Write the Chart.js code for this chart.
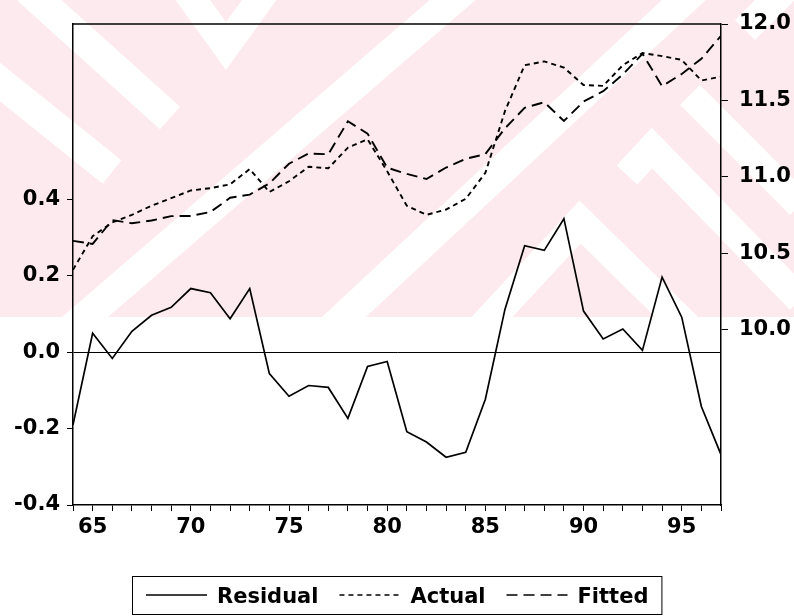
<!DOCTYPE html>
<html>
<head>
<meta charset="utf-8">
<title>Residual, Actual and Fitted</title>
<script src="https://cdn.jsdelivr.net/npm/chart.js@4.4.0/dist/chart.umd.min.js"></script>
<style>
  html, body { margin: 0; padding: 0; background: #fff; }
</style>
</head>
<body>
<canvas id="chart" width="794" height="616"></canvas>
<script>
// years 1964-1997, two-digit labels
const years = [64, 65, 66, 67, 68, 69, 70, 71, 72, 73, 74, 75, 76, 77, 78, 79, 80,
               81, 82, 83, 84, 85, 86, 87, 88, 89, 90, 91, 92, 93, 94, 95, 96, 97];

// left axis
const residual = [-0.190, 0.050, -0.016, 0.055, 0.097, 0.118, 0.167, 0.156, 0.088, 0.167,
                  -0.056, -0.115, -0.087, -0.092, -0.173, -0.037, -0.024, -0.208, -0.235, -0.275,
                  -0.262, -0.123, 0.113, 0.279, 0.267, 0.350, 0.108, 0.035, 0.061, 0.005,
                  0.197, 0.092, -0.142, -0.268];

// right axis
const actual = [10.39, 10.61, 10.70, 10.75, 10.81, 10.86, 10.91, 10.925, 10.95, 11.05,
                10.90, 10.97, 11.065, 11.055, 11.19, 11.245, 11.035, 10.81, 10.75, 10.785,
                10.855, 11.025, 11.43, 11.73, 11.755, 11.715, 11.60, 11.595, 11.73, 11.81,
                11.79, 11.765, 11.63, 11.655];

const fitted = [10.58, 10.56, 10.716, 10.695, 10.713, 10.742, 10.743, 10.769, 10.862, 10.883,
                10.956, 11.085, 11.152, 11.147, 11.363, 11.282, 11.059, 11.018, 10.985, 11.06,
                11.117, 11.148, 11.317, 11.451, 11.488, 11.365, 11.492, 11.56, 11.669, 11.805,
                11.593, 11.673, 11.772, 11.923];

const leftTicks = [-0.4, -0.2, 0.0, 0.2, 0.4];
const rightTicks = [10.0, 10.5, 11.0, 11.5, 12.0];

const FONT = 'DejaVu Sans';
const tickFont = { family: FONT, size: 21, weight: 'bold' };

const pts = arr => years.map((x, i) => ({ x: x, y: arr[i] }));

// pale pink striped logo behind the upper half
const watermark = {
  id: 'watermark',
  beforeDraw(chart) {
    const ctx = chart.ctx;
    const h = 317;
    ctx.save();
    ctx.fillStyle = '#fff';
    ctx.fillRect(0, 0, chart.width, chart.height);
    ctx.beginPath();
    ctx.rect(0, 0, chart.width, h);
    ctx.clip();
    ctx.fillStyle = '#fdeaee';
    ctx.fillRect(0, 0, chart.width, h);
    ctx.strokeStyle = '#fff';
    ctx.lineCap = 'butt';
    ctx.lineJoin = 'miter';
    const stripes = [
      [30, [[28, -10], [170, 118]]],
      [30, [[-15, 70], [112, 172]]],
      [28, [[182, -15], [226, 46], [270, -15]]],
      [30, [[70, 330], [470, -15]]],
      [30, [[330, 330], [700, -15]]],
      [30, [[480, 330], [580, 222], [690, 330]]],
      [28, [[627, 175], [652, 148], [800, 300]]],
      [28, [[690, 95], [800, 205]]],
      [28, [[745, 30], [800, -25]]]
    ];
    stripes.forEach(([w, path]) => {
      ctx.lineWidth = w;
      ctx.beginPath();
      path.forEach(([x, y], i) => i ? ctx.lineTo(x, y) : ctx.moveTo(x, y));
      ctx.stroke();
    });
    ctx.restore();
  }
};

// top edge of the plot box
const frame = {
  id: 'frame',
  afterDraw(chart) {
    const { ctx, chartArea: a } = chart;
    ctx.save();
    ctx.strokeStyle = '#000';
    ctx.lineWidth = 1.5;
    ctx.beginPath();
    ctx.moveTo(a.left, a.top);
    ctx.lineTo(a.right, a.top);
    ctx.stroke();
    ctx.restore();
  }
};

// boxed legend row under the x axis
const boxLegend = {
  id: 'boxLegend',
  afterDraw(chart) {
    const ctx = chart.ctx;
    const sets = chart.data.datasets;
    const lineLen = 61, gap = 10, itemGap = 21, midY = 595;
    ctx.save();
    ctx.font = 'bold 21px "' + FONT + '"';
    const widths = sets.map(d => ctx.measureText(d.label).width);
    const total = widths.reduce((s, w) => s + w + lineLen + gap, 0) + itemGap * (sets.length - 1);
    let x = Math.round(chart.width / 2 - total / 2);
    const x0 = x;
    sets.forEach((d, i) => {
      ctx.strokeStyle = '#000';
      ctx.lineWidth = 1.3;
      ctx.setLineDash(d.borderDash || []);
      ctx.beginPath();
      ctx.moveTo(x, midY);
      ctx.lineTo(x + lineLen, midY);
      ctx.stroke();
      ctx.setLineDash([]);
      ctx.fillStyle = '#000';
      ctx.textBaseline = 'alphabetic';
      ctx.fillText(d.label, x + lineLen + gap, midY + 8);
      x += lineLen + gap + widths[i] + itemGap;
    });
    const x1 = x - itemGap;
    ctx.lineWidth = 1;
    ctx.strokeRect(x0 - 13.5, 576.5, x1 - x0 + 27, 38);
    ctx.restore();
  }
};

new Chart(document.getElementById('chart'), {
  type: 'line',
  data: {
    datasets: [
      {
        label: 'Residual',
        data: pts(residual),
        yAxisID: 'y',
        borderColor: '#000',
        borderWidth: 1.7
      },
      {
        label: 'Actual',
        data: pts(actual),
        yAxisID: 'y2',
        borderColor: '#000',
        borderWidth: 1.9,
        borderDash: [5, 4]
      },
      {
        label: 'Fitted',
        data: pts(fitted),
        yAxisID: 'y2',
        borderColor: '#000',
        borderWidth: 1.9,
        borderDash: [11, 6]
      }
    ]
  },
  options: {
    responsive: false,
    animation: false,
    events: [],
    elements: { point: { radius: 0 }, line: { tension: 0, fill: false } },
    layout: { padding: { top: 24, left: 0, right: 0, bottom: 71 } },
    plugins: {
      legend: { display: false },
      tooltip: { enabled: false }
    },
    scales: {
      x: {
        type: 'linear',
        min: 64,
        max: 97,
        afterBuildTicks: s => { s.ticks = years.map(v => ({ value: v })); },
        afterFit: s => { s.height = 40; },
        ticks: {
          autoSkip: false,
          maxRotation: 0,
          padding: 4,
          color: '#000',
          font: tickFont,
          callback: v => (v % 5 === 0 ? String(v) : '')
        },
        grid: { drawOnChartArea: false, tickLength: 6, color: '#000', lineWidth: 1 },
        border: { color: '#000', width: 1.5 }
      },
      y: {
        position: 'left',
        min: -0.4,
        max: 0.86,
        afterBuildTicks: s => { s.ticks = leftTicks.map(v => ({ value: v })); },
        afterFit: s => { s.width = 73; },
        ticks: {
          padding: 7,
          color: '#000',
          font: tickFont,
          callback: v => v.toFixed(1)
        },
        grid: {
          color: c => (c.tick && c.tick.value === 0 ? '#000' : 'rgba(0,0,0,0)'),
          tickColor: '#000',
          tickLength: 6,
          lineWidth: 1
        },
        border: { color: '#000', width: 1.5 }
      },
      y2: {
        position: 'right',
        min: 8.85,
        max: 12.0,
        afterBuildTicks: s => { s.ticks = rightTicks.map(v => ({ value: v })); },
        afterFit: s => { s.width = 73; },
        ticks: {
          padding: 11,
          color: '#000',
          font: tickFont,
          callback: v => v.toFixed(1)
        },
        grid: { drawOnChartArea: false, tickLength: 7, color: '#000', lineWidth: 1 },
        border: { color: '#000', width: 1.5 }
      }
    }
  },
  plugins: [watermark, frame, boxLegend]
});
</script>
</body>
</html>
